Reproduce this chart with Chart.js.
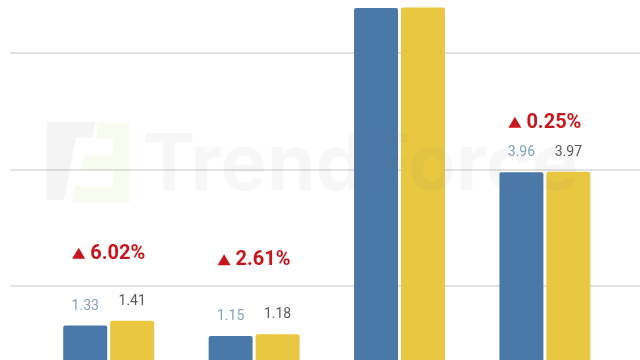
<!DOCTYPE html>
<html>
<head>
<meta charset="utf-8">
<script src="https://cdn.jsdelivr.net/npm/chart.js@4"></script>
<style>
  html, body { margin: 0; padding: 0; background: #fff; overflow: hidden; width: 640px; height: 360px; }
  #contenedor { position: absolute; left: 0; top: 0; width: 763px; height: 403px; }
</style>
</head>
<body>
<div id="contenedor"><canvas id="grafica"></canvas></div>
<script>
// datos (el eje x queda fuera del recorte)
const categorias = ["A", "B", "C", "D", ""];
const serieAnterior = [1.33, 1.15, 6.78, 3.96, null];
const serieActual = [1.41, 1.18, 6.79, 3.97, null];
const variaciones = ["6.02%", "2.61%", null, "0.25%"];
const lineasGuia = [2, 4, 6];

// distancia (px) entre la barra mas alta y la etiqueta de variacion
const separacionVariacion = [69, 76, 0, 51];

const graficaCanvas = document.getElementById("grafica");

const etiquetasValores = {
  id: "etiquetasValores",
  afterDatasetsDraw(chart) {
    const ctx = chart.ctx;
    const colores = ["#83a0c2", "#5a5a5a"];
    ctx.save();
    ctx.font = "14px Roboto, sans-serif";
    ctx.textAlign = "center";
    ctx.textBaseline = "alphabetic";
    chart.data.datasets.forEach((ds, i) => {
      const meta = chart.getDatasetMeta(i);
      meta.data.forEach((barra, j) => {
        if (ds.data[j] == null) return;
        ctx.fillStyle = colores[i];
        ctx.fillText(ds.data[j].toFixed(2), barra.x, barra.y - 16);
      });
    });

    // variaciones en rojo
    ctx.fillStyle = "#c8161d";
    ctx.font = "bold 20px Roboto, sans-serif";
    ctx.textAlign = "left";
    variaciones.forEach((txt, j) => {
      if (!txt) return;
      const b0 = chart.getDatasetMeta(0).data[j];
      const b1 = chart.getDatasetMeta(1).data[j];
      const cx = (b0.x + b1.x) / 2;
      const cy = Math.min(b0.y, b1.y) - separacionVariacion[j];
      const w = ctx.measureText(txt).width;
      const sx = cx - (13 + 5 + w) / 2;
      ctx.beginPath();
      ctx.moveTo(sx, cy + 7);
      ctx.lineTo(sx + 13, cy + 7);
      ctx.lineTo(sx + 6.5, cy - 4);
      ctx.closePath();
      ctx.fill();
      ctx.fillText(txt, sx + 18, cy + 7);
    });
    ctx.restore();
  }
};

// marca de agua tenue
const marcaAgua = {
  id: "marcaAgua",
  afterDraw(chart) {
    const ctx = chart.ctx;
    ctx.save();
    ctx.fillStyle = "rgba(120,120,120,0.08)";
    ctx.beginPath();
    ctx.moveTo(47, 122); ctx.lineTo(95, 122); ctx.lineTo(92, 137);
    ctx.lineTo(76, 137); ctx.lineTo(64, 200); ctx.lineTo(47, 200);
    ctx.closePath();
    ctx.fill();
    ctx.fillStyle = "rgba(190,215,110,0.10)";
    ctx.beginPath();
    ctx.moveTo(99, 122); ctx.lineTo(130, 122); ctx.lineTo(130, 202);
    ctx.lineTo(72, 202); ctx.lineTo(75, 186); ctx.lineTo(113, 186);
    ctx.lineTo(113, 170); ctx.lineTo(81, 170); ctx.lineTo(84, 155);
    ctx.lineTo(113, 155); ctx.lineTo(113, 139); ctx.lineTo(96, 139);
    ctx.closePath();
    ctx.fill();
    ctx.fillStyle = "rgba(120,120,120,0.06)";
    ctx.font = "bold 78px Inter, sans-serif";
    ctx.textBaseline = "alphabetic";
    ctx.fillText("TrendForce", 143, 190);
    ctx.restore();
  }
};

new Chart(graficaCanvas, {
  type: "bar",
  data: {
    labels: categorias,
    datasets: [
      {
        data: serieAnterior,
        backgroundColor: "#4a78a8",
        borderRadius: { topLeft: 2, topRight: 2 },
        borderSkipped: "bottom",
        categoryPercentage: 0.646,
        barPercentage: 0.936
      },
      {
        data: serieActual,
        backgroundColor: "#e9c740",
        borderRadius: { topLeft: 2, topRight: 2 },
        borderSkipped: "bottom",
        categoryPercentage: 0.646,
        barPercentage: 0.936
      }
    ]
  },
  options: {
    responsive: true,
    maintainAspectRatio: false,
    animation: false,
    layout: { padding: { left: 10, right: 0, top: 0, bottom: 0 } },
    plugins: { legend: { display: false }, tooltip: { enabled: false } },
    scales: {
      x: { display: false },
      y: {
        min: 0,
        max: 6.918,
        border: { display: false },
        ticks: { display: false, stepSize: 2 },
        grid: { color: "#e2e2e2", lineWidth: 2, tickLength: 26 },
        afterBuildTicks: (escala) => {
          escala.ticks = lineasGuia.map(v => ({ value: v }));
        }
      }
    }
  },
  plugins: [marcaAgua, etiquetasValores]
});
</script>
</body>
</html>
